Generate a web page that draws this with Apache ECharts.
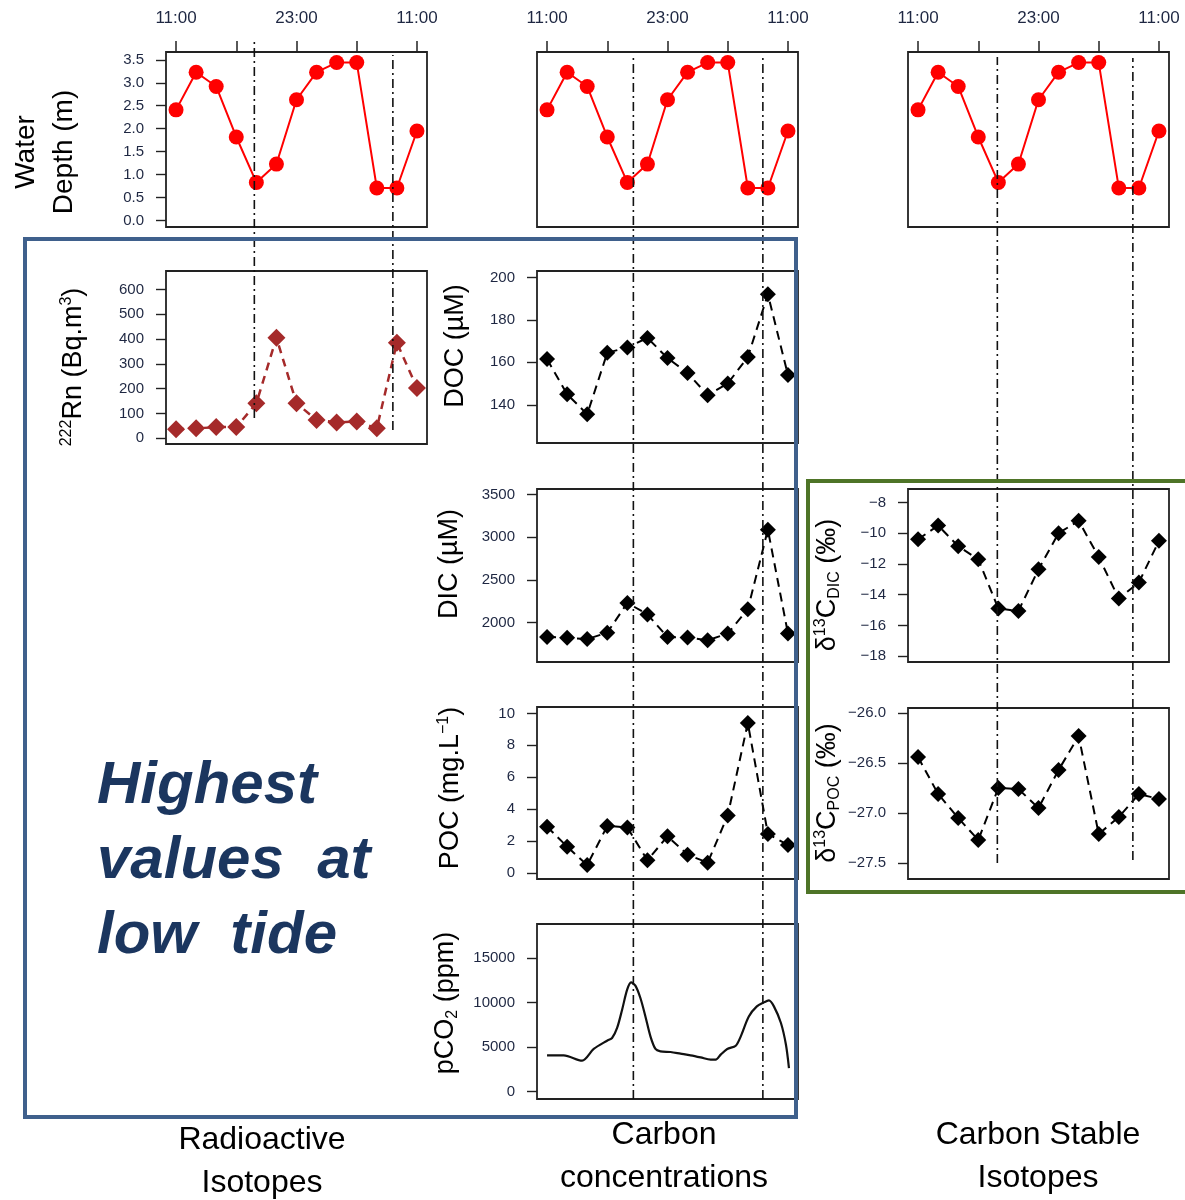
<!DOCTYPE html>
<html><head><meta charset="utf-8">
<script src="https://cdn.jsdelivr.net/npm/echarts@6/dist/echarts.min.js"></script>
<style>html,body{margin:0;padding:0;background:#fff}#c{width:1185px;height:1200px}</style>
</head><body><div id="c"></div>
<script>
// ---------------- data ----------------
const hours = [0, 2, 4, 6, 8, 10, 12, 14, 16, 18, 20, 22, 24]; // hours after 11:00
const timeTickHours = [0, 6, 12, 18, 24];
const timeLabelHours = [0, 12, 24];
const timeLabels = ['11:00', '23:00', '11:00'];

const waterDepth = [2.41, 3.23, 2.92, 1.82, 0.83, 1.23, 2.63, 3.23, 3.44, 3.44, 0.71, 0.71, 1.95];
const radon = [36, 40, 45, 45, 141, 405, 141, 74, 64, 68, 40, 385, 203];
const doc = [161.5, 145, 135.5, 164.5, 167, 171.5, 162, 155, 144.5, 150, 162.5, 192, 154];
const dic = [1830, 1820, 1805, 1880, 2230, 2095, 1830, 1825, 1790, 1870, 2155, 3090, 1870];
const poc = [2.9, 1.65, 0.5, 2.95, 2.85, 0.8, 2.3, 1.15, 0.65, 3.6, 9.4, 2.45, 1.75];
const pco2Hours = [0, 1.66, 3.49, 4.65, 5.98, 6.48, 6.98, 7.48, 7.98, 8.37, 8.8, 9.3, 9.8, 10.3, 10.8, 11.3, 12.3, 13.3, 14.3, 15.3, 16.3, 16.8, 17.3, 17.95, 18.8, 19.3, 20.1, 20.9, 21.6, 22.1, 22.6, 23.3, 23.8, 24.1];
const pco2 = [4050, 4050, 3450, 4770, 5700, 6000, 7130, 9190, 11440, 12260, 11890, 10500, 8430, 6190, 4770, 4500, 4430, 4240, 4050, 3820, 3570, 3570, 4130, 4770, 5140, 6190, 8430, 9560, 10010, 10230, 9560, 7690, 5250, 2630];
const d13cDic = [-10.4, -9.5, -10.85, -11.7, -14.9, -15.05, -12.35, -10.0, -9.2, -11.55, -14.25, -13.2, -10.5];
const d13cPoc = [-26.44, -26.81, -27.05, -27.27, -26.75, -26.76, -26.95, -26.57, -26.23, -27.21, -27.04, -26.81, -26.86];

const lowTideRadio = [7.8, 21.6];
const lowTideConc = [8.6, 21.5];
const lowTideIso = [7.9, 21.4];

const depthTicks = [0, 0.5, 1, 1.5, 2, 2.5, 3, 3.5];
const radonTicks = [0, 100, 200, 300, 400, 500, 600];
const docTicks = [140, 160, 180, 200];
const dicTicks = [2000, 2500, 3000, 3500];
const pocTicks = [0, 2, 4, 6, 8, 10];
const pco2Ticks = [0, 5000, 10000, 15000];
const d13cDicTicks = [-18, -16, -14, -12, -10, -8];
const d13cPocTicks = [-27.5, -27, -26.5, -26];

// ---------------- layout & style ----------------
const FONT = '"Liberation Sans", Arial, sans-serif';
const LABEL_COLOR = '#1e2742';
const PW = 261;
const L1 = 166, L2 = 537, L3 = 908;
const XMIN = -1, XMAX = 25;
const minus = s => String(s).replace('-', '\u2212');
const pairs = (xs, ys) => xs.map((x, i) => [x, ys[i]]);

const depthStyle = {
  symbol: 'circle', symbolSize: 15,
  itemStyle: { color: '#ff0000' },
  lineStyle: { color: '#ff0000', width: 2 }
};
const radonStyle = {
  symbol: 'diamond', symbolSize: 18,
  itemStyle: { color: '#a52a2a' },
  lineStyle: { color: '#a52a2a', width: 2.5, type: [8, 6] }
};
const blackStyle = {
  symbol: 'diamond', symbolSize: 16,
  itemStyle: { color: '#000' },
  lineStyle: { color: '#000', width: 2, type: [9, 6] }
};
const curveStyle = {
  symbol: 'none', smooth: 0.3,
  lineStyle: { color: '#111', width: 2.2 }
};

const panels = [
  { left: L1, top: 52, height: 175, min: -0.14, max: 3.67, ticks: depthTicks, fmt: v => v.toFixed(1), data: pairs(hours, waterDepth), st: depthStyle, topAxis: true },
  { left: L2, top: 52, height: 175, min: -0.14, max: 3.67, ticks: depthTicks, fmt: v => v.toFixed(1), data: pairs(hours, waterDepth), st: depthStyle, topAxis: true, noLabels: true },
  { left: L3, top: 52, height: 175, min: -0.14, max: 3.67, ticks: depthTicks, fmt: v => v.toFixed(1), data: pairs(hours, waterDepth), st: depthStyle, topAxis: true, noLabels: true },
  { left: L1, top: 271, height: 173, min: -23, max: 674, ticks: radonTicks, fmt: v => String(v), data: pairs(hours, radon), st: radonStyle },
  { left: L2, top: 271, height: 172, min: 122, max: 203, ticks: docTicks, fmt: v => String(v), data: pairs(hours, doc), st: blackStyle },
  { left: L2, top: 489, height: 173, min: 1536, max: 3567, ticks: dicTicks, fmt: v => String(v), data: pairs(hours, dic), st: blackStyle },
  { left: L2, top: 707, height: 172, min: -0.375, max: 10.4, ticks: pocTicks, fmt: v => String(v), data: pairs(hours, poc), st: blackStyle },
  { left: L2, top: 924, height: 175, min: -855, max: 18823, ticks: pco2Ticks, fmt: v => String(v), data: pairs(pco2Hours, pco2), st: curveStyle },
  { left: L3, top: 489, height: 173, min: -18.37, max: -7.13, ticks: d13cDicTicks, fmt: v => minus(v), data: pairs(hours, d13cDic), st: blackStyle },
  { left: L3, top: 708, height: 171, min: -27.66, max: -25.95, ticks: d13cPocTicks, fmt: v => minus(v.toFixed(1)), data: pairs(hours, d13cPoc), st: blackStyle }
];

const tideLines = [
  { left: L1, top: 41, bottom: 418, hour: lowTideRadio[0] },
  { left: L1, top: 55, bottom: 430, hour: lowTideRadio[1] },
  { left: L2, top: 58, bottom: 1099, hour: lowTideConc[0] },
  { left: L2, top: 58, bottom: 1099, hour: lowTideConc[1] },
  { left: L3, top: 57, bottom: 863, hour: lowTideIso[0] },
  { left: L3, top: 58, bottom: 860, hour: lowTideIso[1] }
];

const grid = [], xAxis = [], yAxis = [], series = [];
panels.forEach((p, i) => {
  grid.push({ left: p.left, top: p.top, width: PW, height: p.height, show: true,
    borderColor: '#222', borderWidth: 1.8, backgroundColor: 'transparent',
    containLabel: false, outerBoundsMode: 'none' });
  xAxis.push({
    gridIndex: i, type: 'value', min: XMIN, max: XMAX, position: 'top',
    show: true,
    axisLine: { show: false, onZero: false },
    axisTick: { show: !!p.topAxis, customValues: timeTickHours, length: 11, lineStyle: { color: '#222', width: 1.5 } },
    axisLabel: { show: !!p.topAxis, customValues: timeLabelHours, margin: 25, fontSize: 17, fontFamily: FONT, color: LABEL_COLOR,
      formatter: v => timeLabels[timeLabelHours.indexOf(v)] || '' },
    splitLine: { show: false }
  });
  yAxis.push({
    gridIndex: i, type: 'value', min: p.min, max: p.max,
    axisLine: { show: false, onZero: false },
    axisTick: { show: !p.noLabels, customValues: p.ticks, length: 10, lineStyle: { color: '#222', width: 1.4 } },
    axisLabel: { show: !p.noLabels, customValues: p.ticks, margin: 22, fontSize: 15, fontFamily: FONT, color: LABEL_COLOR, formatter: p.fmt },
    splitLine: { show: false }
  });
  series.push(Object.assign({ type: 'line', xAxisIndex: i, yAxisIndex: i, data: p.data, z: 3, silent: true }, p.st));
});

tideLines.forEach((t) => {
  const i = grid.length;
  grid.push({ left: t.left, top: t.top, width: PW, height: t.bottom - t.top, show: false, containLabel: false, outerBoundsMode: 'none' });
  xAxis.push({ gridIndex: i, type: 'value', min: XMIN, max: XMAX, show: false, axisLine: { onZero: false } });
  yAxis.push({ gridIndex: i, type: 'value', min: 0, max: 1, show: false, axisLine: { onZero: false } });
  series.push({ type: 'line', xAxisIndex: i, yAxisIndex: i, data: [[t.hour, 0], [t.hour, 1]], symbol: 'none', z: 6, silent: true,
    lineStyle: { color: '#111', width: 1.6, type: [9, 4, 2, 4] } });
});

// ---------------- texts ----------------
const TITLE = 27;
const rich = {
  n: { fontSize: TITLE, fontFamily: FONT, lineHeight: 30, fill: '#000' },
  sup: { fontSize: 16, fontFamily: FONT, lineHeight: 16, verticalAlign: 'top', fill: '#000' },
  sub: { fontSize: 16, fontFamily: FONT, lineHeight: 16, verticalAlign: 'bottom', fill: '#000' }
};
function vtitle(x, y, text) {
  return { type: 'text', x, y, rotation: Math.PI / 2, z: 50,
    style: { text, rich, fontSize: TITLE, fontFamily: FONT, fill: '#000', align: 'center', verticalAlign: 'middle' } };
}
const graphic = [
  { type: 'text', x: 45, y: 152, rotation: Math.PI / 2, z: 50,
    style: { text: 'Water\nDepth (m)', fontSize: 28, fontFamily: FONT, fill: '#000', align: 'center', verticalAlign: 'middle', lineHeight: 38 } },
  vtitle(74, 367, '{sup|222}{n|Rn (Bq.m}{sup|3}{n|)}'),
  vtitle(456, 346, '{n|DOC (µM)}'),
  vtitle(450, 564, '{n|DIC (µM)}'),
  vtitle(451, 788, '{n|POC (mg.L}{sup|\u22121}{n|)}'),
  vtitle(446, 1003, '{n|pCO}{sub|2}{n| (ppm)}'),
  vtitle(828, 585, '{n|δ}{sup|13}{n|C}{sub|DIC}{n| (‰)}'),
  vtitle(828, 793, '{n|δ}{sup|13}{n|C}{sub|POC}{n| (‰)}'),
  { type: 'rect', z: 40, shape: { x: 25, y: 239, width: 771, height: 878 },
    style: { fill: 'none', stroke: '#3f608c', lineWidth: 4 } },
  { type: 'rect', z: 40, shape: { x: 808, y: 481, width: 390, height: 411 },
    style: { fill: 'none', stroke: '#4e7427', lineWidth: 4 } },
  { type: 'text', x: 97, y: 861, z: 50,
    style: { text: 'Highest\nvalues  at\nlow  tide', fontSize: 60, fontStyle: 'italic', fontWeight: 'bold', fontFamily: FONT,
      fill: '#1b365f', align: 'left', verticalAlign: 'middle', lineHeight: 75 } },
  { type: 'text', x: 262, y: 1162, z: 50,
    style: { text: 'Radioactive\nIsotopes', fontSize: 32, fontFamily: FONT, fill: '#000', align: 'center', verticalAlign: 'middle', lineHeight: 43 } },
  { type: 'text', x: 664, y: 1157, z: 50,
    style: { text: 'Carbon\nconcentrations', fontSize: 32, fontFamily: FONT, fill: '#000', align: 'center', verticalAlign: 'middle', lineHeight: 43 } },
  { type: 'text', x: 1038, y: 1157, z: 50,
    style: { text: 'Carbon Stable\nIsotopes', fontSize: 32, fontFamily: FONT, fill: '#000', align: 'center', verticalAlign: 'middle', lineHeight: 43 } }
];

const chart = echarts.init(document.getElementById('c'), null, { renderer: 'canvas' });
chart.setOption({
  animation: false,
  backgroundColor: '#fff',
  grid, xAxis, yAxis, series, graphic
});
</script>
</body></html>
